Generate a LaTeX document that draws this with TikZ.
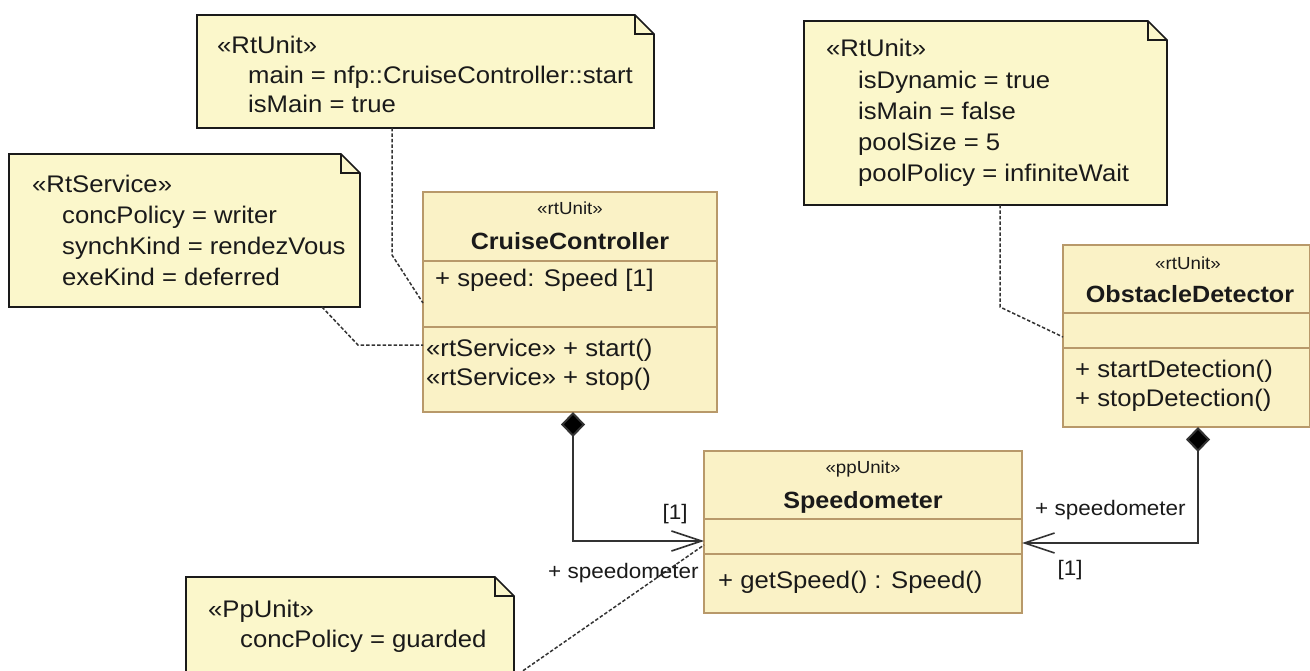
\documentclass[tikz,border=0pt]{standalone}
\usepackage{fontspec}
\setmainfont{Liberation Sans}[FakeStretch=1.07]
\usetikzlibrary{arrows.meta,calc}
\definecolor{notefill}{HTML}{FBF7CB}
\definecolor{classfill}{HTML}{FAF2C6}
\definecolor{classedge}{HTML}{B8996A}
\definecolor{ink}{HTML}{1A1A1A}
\definecolor{wire}{HTML}{333333}
\begin{document}
\begin{tikzpicture}[x=1pt,y=-1pt,
  txt/.style={inner sep=0pt, text=ink, font=\fontsize{24}{28}\selectfont, anchor=base west},
  small/.style={inner sep=0pt, text=ink, font=\fontsize{17.5}{20}\selectfont, anchor=center},
  cname/.style={inner sep=0pt, text=ink, font=\fontsize{23.5}{28}\selectfont\bfseries, anchor=base},
  lbl/.style={inner sep=0pt, text=ink, font=\fontsize{21}{25}\selectfont},
  notearea/.style={inner sep=0pt, outer sep=0pt, anchor=north west},
  classbox/.style={draw=classedge, fill=classfill, line width=1.8pt, inner sep=0pt, outer sep=0pt, anchor=north west},
  classline/.style={draw=classedge, line width=1.6pt},
  noteedge/.style={draw=ink, fill=notefill, line width=1.6pt, line join=miter},
  foldedge/.style={draw=ink, line width=1.2pt},
  notelink/.style={draw=wire, line width=1.5pt, dash pattern=on 3.5pt off 2pt},
  comp/.style={draw=wire, line width=2pt, {Diamond[length=25pt,width=24pt,fill=black]}-{Straight Barb[length=30pt,width=20pt,line width=1.6pt]}},
]
\useasboundingbox (0,0) rectangle (1310,671);
\fill[white] (0,0) rectangle (1310,671);
\clip (0,0) rectangle (1310,671);

% guide coordinates
\coordinate (gA) at (392,0);
\coordinate (gB) at (322,0);
\coordinate (gC) at (1000,0);
\coordinate (gL) at (573,0);
\coordinate (gR) at (1198,0);
\coordinate (hA) at (0,303);
\coordinate (hB) at (0,345);
\coordinate (hC) at (0,337);
\coordinate (hD) at (0,677);
\coordinate (hE) at (0,545);
\coordinate (hL) at (0,541);
\coordinate (hR) at (0,543);

% ---------- notes ----------
\node[notearea, minimum width=457pt, minimum height=113pt] (nA) at (197,15) {};
\node[notearea, minimum width=351pt, minimum height=153pt] (nB) at (9,154) {};
\node[notearea, minimum width=363pt, minimum height=184pt] (nC) at (804,21) {};
\node[notearea, minimum width=328pt, minimum height=130pt] (nD) at (186,577) {};
\foreach \n in {nA,nB,nC,nD}{
  \draw[noteedge] (\n.north west) -- ($(\n.north east)+(-19,0)$) -- ($(\n.north east)+(0,19)$) -- (\n.south east) -- (\n.south west) -- cycle;
  \draw[foldedge] ($(\n.north east)+(-19,0)$) -- ($(\n.north east)+(-19,19)$) -- ($(\n.north east)+(0,19)$);
}

% note texts
\node[txt] (tA1) at (217,54) {«RtUnit»};
\node[txt] (tA2) at (248,84) {main = nfp::CruiseController::start};
\node[txt] (tA3) at (248,113) {isMain = true};

\node[txt] (tB1) at (32,193) {«RtService»};
\node[txt] (tB2) at (62,224) {concPolicy = writer};
\node[txt] (tB3) at (62,255) {synchKind = rendezVous};
\node[txt] (tB4) at (62,286) {exeKind = deferred};

\node[txt] (tC1) at (826,57) {«RtUnit»};
\node[txt] (tC2) at (858,89) {isDynamic = true};
\node[txt] (tC3) at (858,120) {isMain = false};
\node[txt] (tC4) at (858,151) {poolSize = 5};
\node[txt] (tC5) at (858,182) {poolPolicy = infiniteWait};

\node[txt] (tD1) at (208,617) {«PpUnit»};
\node[txt] (tD2) at (240,647) {concPolicy = guarded};

% ---------- classes ----------
\node[classbox, minimum width=294pt, minimum height=220pt] (cc) at (423,192) {};
\draw[classline] (423,261) -- (717,261);
\draw[classline] (423,327) -- (717,327);
\node[small] (cc0) at (570,208) {«rtUnit»};
\node[cname] (cc1) at (570,250) {CruiseController};
\node[txt] (cc2) at (435,287) {+ speed: Speed [1]};
\node[txt] (cc3) at (426,356) {«rtService» + start()};
\node[txt] (cc4) at (426,385) {«rtService» + stop()};

\node[classbox, minimum width=247pt, minimum height=182pt] (od) at (1063,245) {};
\draw[classline] (1063,313) -- (1310,313);
\draw[classline] (1063,348) -- (1310,348);
\node[small] (od0) at (1188,263) {«rtUnit»};
\node[cname] (od1) at (1190,302) {ObstacleDetector};
\node[txt] (od2) at (1075,377) {+ startDetection()};
\node[txt] (od3) at (1075,406) {+ stopDetection()};

\node[classbox, minimum width=318pt, minimum height=162pt] (spd) at (704,451) {};
\draw[classline] (704,519) -- (1022,519);
\draw[classline] (704,554) -- (1022,554);
\node[small] (sp0) at (863,469) {«ppUnit»};
\node[cname] (sp1) at (863,508) {Speedometer};
\node[txt] (sp2) at (718,588) {+ getSpeed() : Speed()};

% ---------- connectors ----------
\draw[notelink] (nA.south -| gA) -- (392,255) -- (cc.west |- hA);
\draw[notelink] (nB.south -| gB) -- (358,345) -- (cc.west |- hB);
\draw[notelink] (nC.south -| gC) -- (1000,307) -- (od.west |- hC);
\draw[notelink] (nD.east |- hD) -- (spd.west |- hE);

\draw[comp] (cc.south -| gL) |- (spd.west |- hL);
\draw[comp] (od.south -| gR) |- (spd.east |- hR);

% labels
\node[lbl, anchor=center] (m1) at (675,514) {[1]};
\node[lbl, anchor=west] (r1) at (548,573) {+ speedometer};
\node[lbl, anchor=west] (r2) at (1035,510) {+ speedometer};
\node[lbl, anchor=center] (m2) at (1070,570) {[1]};
\end{tikzpicture}
\end{document}
